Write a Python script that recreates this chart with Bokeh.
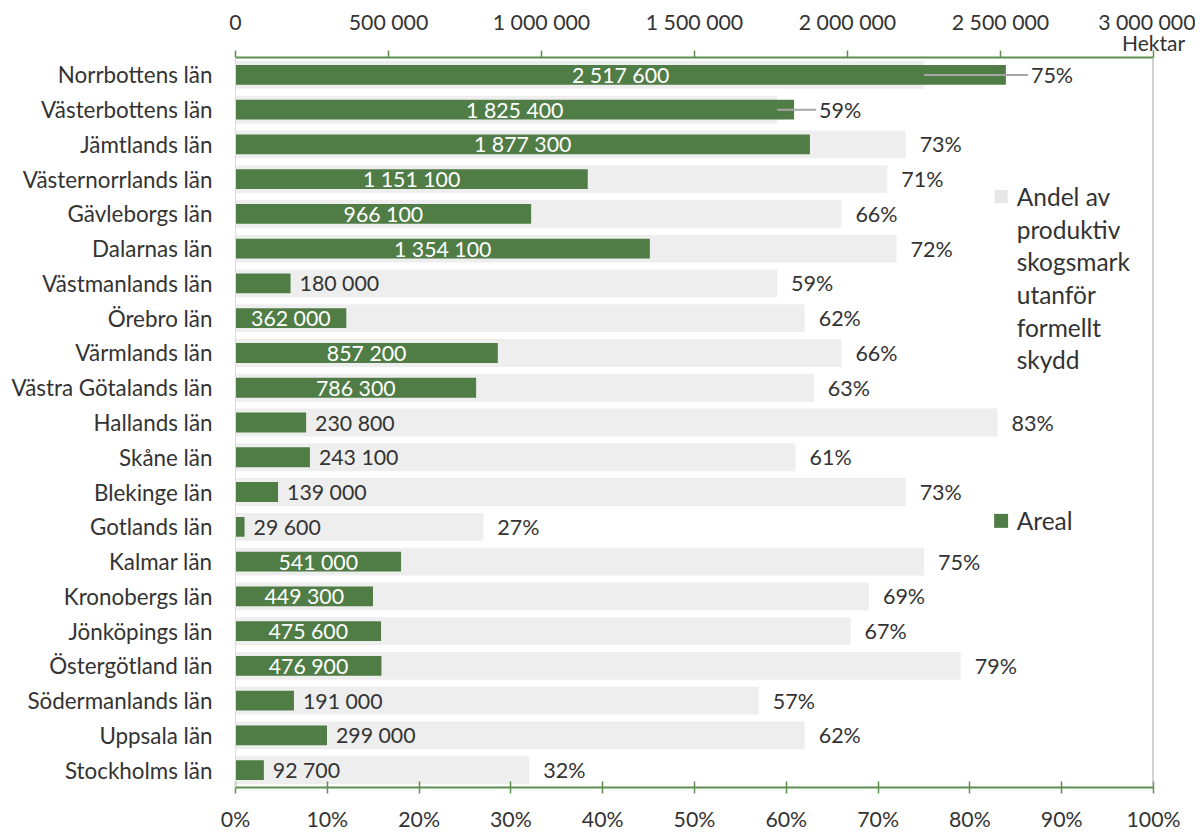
from bokeh.plotting import figure
from bokeh.models import ColumnDataSource, FactorRange, Range1d, LinearAxis, FixedTicker, Span
from bokeh.core.properties import value
from bokeh.embed import file_html
from bokeh.resources import INLINE

names = ["Norrbottens län", "Västerbottens län", "Jämtlands län", "Västernorrlands län",
         "Gävleborgs län", "Dalarnas län", "Västmanlands län", "Örebro län", "Värmlands län",
         "Västra Götalands län", "Hallands län", "Skåne län", "Blekinge län", "Gotlands län",
         "Kalmar län", "Kronobergs län", "Jönköpings län", "Östergötland län",
         "Södermanlands län", "Uppsala län", "Stockholms län"]
areal = [2517600, 1825400, 1877300, 1151100, 966100, 1354100, 180000, 362000, 857200,
         786300, 230800, 243100, 139000, 29600, 541000, 449300, 475600, 476900,
         191000, 299000, 92700]
andel = [75, 59, 73, 71, 66, 72, 59, 62, 66, 63, 83, 61, 73, 27, 75, 69, 67, 79, 57, 62, 32]

pct_ticks = [0, 10, 20, 30, 40, 50, 60, 70, 80, 90, 100]
pct_tick_labels = ["0%", "10%", "20%", "30%", "40%", "50%", "60%", "70%", "80%", "90%", "100%"]
ha_ticks = [0, 500000, 1000000, 1500000, 2000000, 2500000, 3000000]
ha_tick_labels = ["0", "500 000", "1 000 000", "1 500 000", "2 000 000", "2 500 000", "3 000 000"]
legend_andel = ["Andel av", "produktiv", "skogsmark", "utanför", "formellt", "skydd"]
legend_areal = "Areal"
unit_label = "Hektar"

GREEN = "#507D46"
AXGREEN = "#5E8F50"
GREY = "#EEEEEE"
TXT = "#333333"
FONT = "Lato"
HA_MAX = 3000000

W, H = 1195, 834
FL, FR, FT, FB = 235, 1153, 57, 793  # frame edges on the canvas

def fmt(v):
    return f"{v:,}".replace(",", " ")

p = figure(width=W, height=H, output_backend="svg", toolbar_location=None,
           y_range=FactorRange(factors=list(reversed(names)), range_padding=0),
           x_range=Range1d(0, 100),
           min_border_left=FL, min_border_right=W - FR, min_border_top=FT,
           min_border_bottom=H - FB)
p.extra_x_ranges = {"ha": Range1d(0, HA_MAX)}
p.outline_line_color = None
p.xgrid.visible = False
p.ygrid.visible = False
p.background_fill_color = "white"

src = ColumnDataSource(dict(name=names, areal=areal, andel=andel))

p.hbar(y="name", right="andel", left=0, height=0.8, source=src,
       fill_color=GREY, line_color=None)
p.hbar(y="name", right="areal", left=0, height=0.57, source=src,
       fill_color=GREEN, line_color=None, x_range_name="ha")

# area labels
inside = [i for i, a in enumerate(areal) if a >= 300000]
outside = [i for i, a in enumerate(areal) if a < 300000]
p.text(x=[areal[i] / 2 for i in inside], y=[names[i] for i in inside],
       text=[fmt(areal[i]) for i in inside], x_range_name="ha",
       text_align="center", text_baseline="middle", text_color="white",
       text_font=value(FONT), text_font_size="21.3px")
p.text(x=[areal[i] for i in outside], y=[names[i] for i in outside],
       text=[fmt(areal[i]) for i in outside], x_range_name="ha", x_offset=9,
       text_align="left", text_baseline="middle", text_color=TXT,
       text_font=value(FONT), text_font_size="21.3px")

# percentage labels
gp = [a / HA_MAX * 100 for a in areal]
normal = [i for i in range(len(names)) if gp[i] <= andel[i]]
lead = [i for i in range(len(names)) if gp[i] > andel[i]]
p.text(x=[andel[i] for i in normal], y=[names[i] for i in normal],
       text=[f"{andel[i]}%" for i in normal], x_offset=14,
       text_align="left", text_baseline="middle", text_color=TXT,
       text_font=value(FONT), text_font_size="21.5px")
p.segment(x0=[andel[i] for i in lead], y0=[names[i] for i in lead],
          x1=[gp[i] + 2.4 for i in lead], y1=[names[i] for i in lead],
          line_color="#A6A6A6", line_width=2)
p.text(x=[gp[i] + 2.4 for i in lead], y=[names[i] for i in lead],
       text=[f"{andel[i]}%" for i in lead], x_offset=3,
       text_align="left", text_baseline="middle", text_color=TXT,
       text_font=value(FONT), text_font_size="21.5px")

# bottom axis (percent)
xa = p.xaxis[0]
xa.ticker = FixedTicker(ticks=pct_ticks)
xa.major_label_overrides = {t: l for t, l in zip(pct_ticks, pct_tick_labels)}
xa.axis_line_color = AXGREEN
xa.axis_line_width = 2
xa.major_tick_line_color = AXGREEN
xa.major_tick_line_width = 1.5
xa.major_tick_in = 6
xa.major_tick_out = 6
xa.minor_tick_line_color = None
xa.major_label_standoff = 12
xa.major_label_text_font = FONT
xa.major_label_text_font_size = "21.3px"
xa.major_label_text_color = TXT

# top axis (hectares): inner axis draws line, ticks and the unit label
unit_overrides = {t: "" for t in ha_ticks}
unit_overrides[ha_ticks[-1]] = unit_label
top_in = LinearAxis(x_range_name="ha", ticker=FixedTicker(ticks=ha_ticks),
                    major_label_overrides=unit_overrides)
top_in.axis_line_color = AXGREEN
top_in.axis_line_width = 2
top_in.major_tick_line_color = AXGREEN
top_in.major_tick_line_width = 1.5
top_in.major_tick_in = 0
top_in.major_tick_out = 7
top_in.minor_tick_line_color = None
top_in.major_label_standoff = -4
top_in.major_label_text_font = FONT
top_in.major_label_text_font_size = "21px"
top_in.major_label_text_color = TXT
p.add_layout(top_in, "above")

# outer axis: only the number labels
top_out = LinearAxis(x_range_name="ha", ticker=FixedTicker(ticks=ha_ticks),
                     major_label_overrides={t: l for t, l in zip(ha_ticks, ha_tick_labels)})
top_out.axis_line_color = None
top_out.major_tick_line_color = None
top_out.major_tick_in = 0
top_out.major_tick_out = 0
top_out.minor_tick_line_color = None
top_out.major_label_standoff = -8
top_out.major_label_text_font = FONT
top_out.major_label_text_font_size = "21.3px"
top_out.major_label_text_color = TXT
p.add_layout(top_out, "above")

ya = p.yaxis[0]
ya.axis_line_color = "#D9D9D9"
ya.axis_line_width = 1
ya.major_tick_line_color = None
ya.minor_tick_line_color = None
ya.major_tick_in = 0
ya.major_tick_out = 0
ya.major_label_standoff = 23
ya.major_label_text_font = FONT
ya.major_label_text_font_size = "22.4px"
ya.major_label_text_color = TXT

p.add_layout(Span(location=100, dimension="height", line_color="#A6A6A6", line_width=2))

# legend
ly = [17.0 - 0.94 * k for k in range(len(legend_andel))]
p.scatter(x=[83.4], y=[17.0], marker="square", size=13, fill_color="#E6E6E6", line_color=None)
p.text(x=[85.1] * len(legend_andel), y=ly, text=legend_andel, text_align="left",
       text_baseline="middle", text_color=TXT, text_font=value(FONT), text_font_size="24.5px")
p.scatter(x=[83.4], y=[7.67], marker="square", size=14, fill_color=GREEN, line_color=None)
p.text(x=[85.1], y=[7.67], text=[legend_areal], text_align="left",
       text_baseline="middle", text_color=TXT, text_font=value(FONT), text_font_size="24.5px")

open("out.html", "w").write(file_html(p, INLINE))
